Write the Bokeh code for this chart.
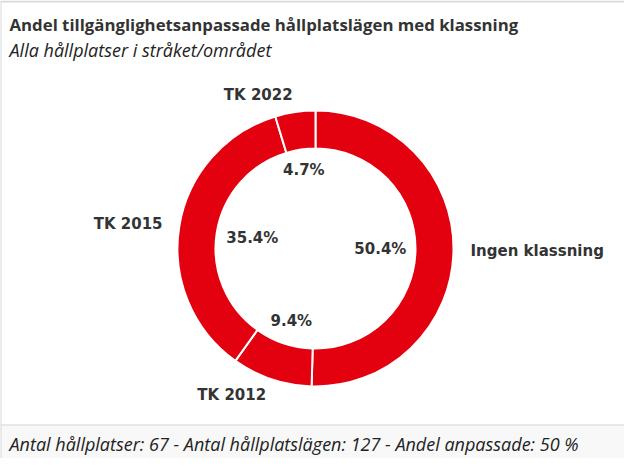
import numpy as np
from bokeh.plotting import figure
from bokeh.models import Range1d, ColumnDataSource, Label
from bokeh.core.properties import value
from bokeh.embed import file_html
from bokeh.resources import INLINE

# ---- data ----
categories = ["Ingen klassning", "TK 2012", "TK 2015", "TK 2022"]
shares = [50.4, 9.4, 35.4, 4.7]
title_text = "Andel tillgänglighetsanpassade hållplatslägen med klassning"
subtitle_text = "Alla hållplatser i stråket/området"
footer_text = "Antal hållplatser: 67 - Antal hållplatslägen: 127 - Andel anpassade: 50 %"

# ---- layout / style ----
W, H = 624, 458
RED = "#e3000f"
DARK = "#333333"
CX, CY = 315, 210
R_OUT, R_IN = 138, 100
LABEL_FONT = "DejaVu Sans"

vals = np.array(shares, dtype=float)
frac = vals / vals.sum()
cum = np.concatenate([[0], np.cumsum(frac)])
start = np.pi / 2 - 2 * np.pi * cum[:-1]
end = np.pi / 2 - 2 * np.pi * cum[1:]
mid = (start + end) / 2
cosm, sinm = np.cos(mid), np.sin(mid)

pct_text = [f"{v:.1f}%" for v in shares]
hw = np.array([len(t) * 5.0 for t in pct_text])
hh = 8.0
r_pct = R_IN - 10 - (np.abs(cosm) * hw + np.abs(sinm) * hh)

src = ColumnDataSource(dict(
    cat=categories, start=start, end=end,
    px=CX + r_pct * cosm, py=CY + r_pct * sinm, pct=pct_text,
    lx=CX + 155 * cosm, ly=CY + 155 * sinm,
    align=["left" if c > 0.01 else "right" for c in cosm],
))

p = figure(width=W, height=H, output_backend="svg", toolbar_location=None,
           x_range=Range1d(0, W), y_range=Range1d(0, H), min_border=0,
           outline_line_color=None, background_fill_color="white",
           border_fill_color="white")
p.axis.visible = False
p.grid.visible = False

# card frame + footer band
p.quad(left=0, right=W, bottom=0, top=33.5, fill_color="#f8f8f8", line_color=None)
p.segment(x0=0, y0=33.5, x1=W, y1=33.5, line_color="#e2e2e2", line_width=1.5)
p.segment(x0=0, y0=457, x1=W, y1=457, line_color="#d9d9d9", line_width=2)
p.segment(x0=0, y0=0, x1=0, y1=457, line_color="#d9d9d9", line_width=2)

p.annular_wedge(x=CX, y=CY, inner_radius=R_IN, outer_radius=R_OUT,
                start_angle="start", end_angle="end", direction="clock",
                source=src, fill_color=RED, line_color="white", line_width=2)

p.text(x="px", y="py", text="pct", source=src, text_align="center",
       text_baseline="middle", text_font=value(LABEL_FONT), text_font_style="bold",
       text_font_size="15px", text_color=DARK)
p.text(x="lx", y="ly", text="cat", source=src, text_align="align",
       text_baseline="middle", text_font=value(LABEL_FONT), text_font_style="bold",
       text_font_size="15px", text_color=DARK)

p.add_layout(Label(x=9, y=434, text=title_text, text_font="Open Sans", text_font_style="bold",
                   text_font_size="16.8px", text_color=DARK, text_baseline="middle"))
p.add_layout(Label(x=9, y=409, text=subtitle_text, text_font="Open Sans", text_font_style="italic",
                   text_font_size="18px", text_color="#222222", text_baseline="middle"))
p.add_layout(Label(x=9, y=15, text=footer_text, text_font="Open Sans", text_font_style="italic",
                   text_font_size="18px", text_color="#222222", text_baseline="middle"))

open("out.html", "w").write(file_html(p, INLINE))
